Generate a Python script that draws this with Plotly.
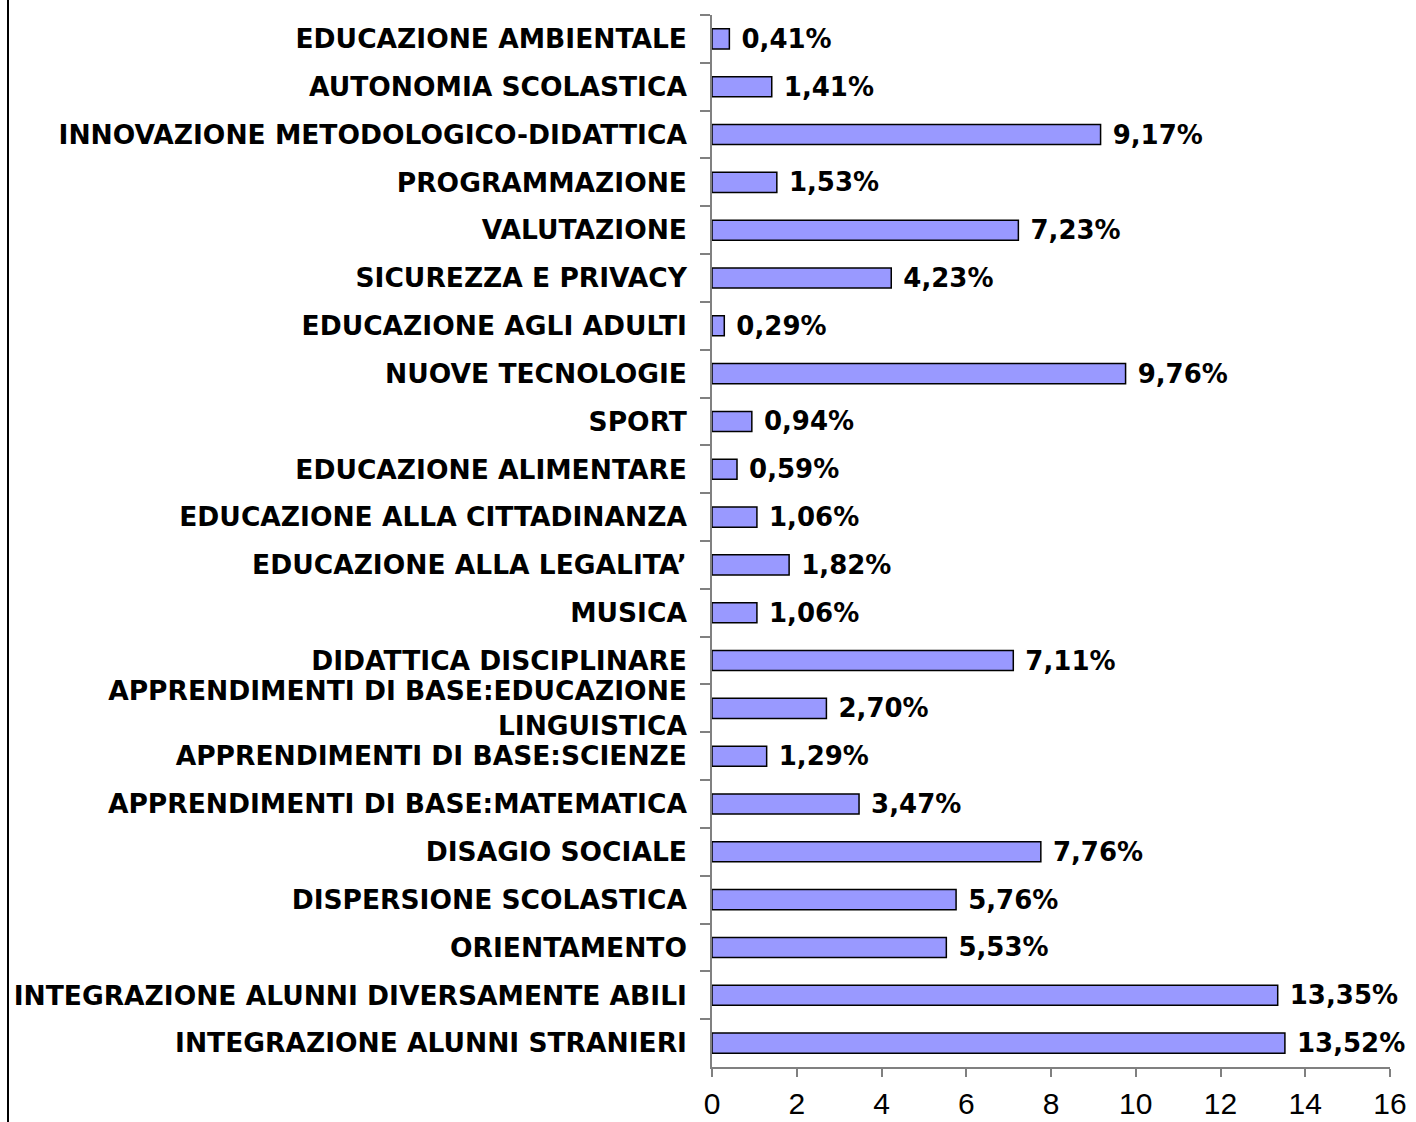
import plotly.graph_objects as go

categories = [
    "EDUCAZIONE AMBIENTALE",
    "AUTONOMIA SCOLASTICA",
    "INNOVAZIONE METODOLOGICO-DIDATTICA",
    "PROGRAMMAZIONE",
    "VALUTAZIONE",
    "SICUREZZA E PRIVACY",
    "EDUCAZIONE AGLI ADULTI",
    "NUOVE TECNOLOGIE",
    "SPORT",
    "EDUCAZIONE ALIMENTARE",
    "EDUCAZIONE ALLA CITTADINANZA",
    "EDUCAZIONE ALLA LEGALITA’",
    "MUSICA",
    "DIDATTICA DISCIPLINARE",
    "APPRENDIMENTI DI BASE:EDUCAZIONE<br>LINGUISTICA",
    "APPRENDIMENTI DI BASE:SCIENZE",
    "APPRENDIMENTI DI BASE:MATEMATICA",
    "DISAGIO SOCIALE",
    "DISPERSIONE SCOLASTICA",
    "ORIENTAMENTO",
    "INTEGRAZIONE ALUNNI DIVERSAMENTE ABILI",
    "INTEGRAZIONE ALUNNI STRANIERI",
]
values = [0.41, 1.41, 9.17, 1.53, 7.23, 4.23, 0.29, 9.76, 0.94, 0.59, 1.06,
          1.82, 1.06, 7.11, 2.70, 1.29, 3.47, 7.76, 5.76, 5.53, 13.35, 13.52]
x_ticks = [0, 2, 4, 6, 8, 10, 12, 14, 16]

labels = [" " + f"{v:.2f}".replace(".", ",") + "%" for v in values]

W, H = 1416, 1122
L, R, T, B = 712, 26, 15, 55
pw = W - L - R
ph = H - T - B

BOLD_FONT = "DejaVu Sans, Verdana, sans-serif"

fig = go.Figure(go.Bar(
    y=categories, x=values, orientation="h",
    marker=dict(color="#9999FF", line=dict(color="black", width=1.5)),
    text=labels, textposition="outside", cliponaxis=False, constraintext="none",
    textfont=dict(family=BOLD_FONT, size=26, color="black", weight="bold"),
    width=0.42,
))

fig.update_layout(
    width=W, height=H,
    margin=dict(l=L, r=R, t=T, b=B, autoexpand=False),
    plot_bgcolor="white", paper_bgcolor="white",
    showlegend=False,
    font=dict(family="Liberation Sans, Arial, sans-serif", color="black"),
)
fig.update_xaxes(
    range=[0, 16], tickvals=x_ticks, showgrid=False, zeroline=False,
    showline=True, linecolor="#808080", linewidth=1.5,
    ticks="outside", ticklen=8, tickcolor="#808080", tickwidth=1.5,
    ticklabelstandoff=1,
    tickfont=dict(size=30, family="Liberation Sans, Arial, sans-serif", color="black"),
)
fig.update_yaxes(
    autorange="reversed", showgrid=False, zeroline=False,
    showline=True, linecolor="#808080", linewidth=1.5,
    ticks="outside", ticklen=10, tickcolor="#808080", tickwidth=1.5,
    tickson="boundaries", ticklabelstandoff=18,
    tickfont=dict(size=26.5, family=BOLD_FONT, color="black", weight="bold"),
)

fig.add_shape(type="line", xref="paper", yref="paper",
              x0=(8 - L) / pw, x1=(8 - L) / pw,
              y0=-B / ph, y1=1 + T / ph,
              line=dict(color="black", width=2))

fig.write_html("out.html", config={"displayModeBar": False},
               post_script="document.body.style.margin='0';document.body.style.overflow='hidden';")
